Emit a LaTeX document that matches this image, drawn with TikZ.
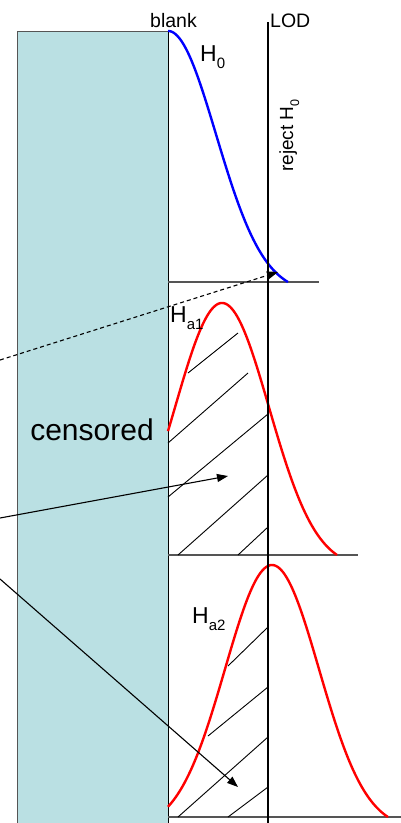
\documentclass[tikz,border=0pt]{standalone}
\usepackage{fontspec}
\setmainfont{Liberation Sans}
\usetikzlibrary{arrows.meta}
\definecolor{censcyan}{RGB}{186,224,227}
\definecolor{baseg}{RGB}{85,85,85}
\begin{document}
\begin{tikzpicture}[x=1pt,y=-1pt,
  curveblue/.style={blue,line width=2.4pt},
  curvered/.style={red,line width=2.4pt},
  baseline/.style={baseg,line width=1.8pt},
  hatch/.style={black,line width=0.9pt},
  pointer/.style={black,line width=1.1pt,-{Triangle[length=11pt,width=8pt]}},
  lbl/.style={inner sep=0pt,font=\fontsize{19.5}{19.5}\selectfont},
  hyp/.style={inner sep=0pt,font=\fontsize{23}{23}\selectfont}]
\useasboundingbox (0,0) rectangle (401,823);
% censored region
\fill[censcyan] (17,31) rectangle (168,830);
\draw[baseg,line width=1pt] (17,830) -- (17,31) -- (168,31);
\draw[black,line width=0.9pt] (168,31) -- (168,830);
\node[inner sep=0pt,font=\fontsize{30}{30}\selectfont] (cens) at (92,430) {censored};
% baselines
\draw[baseline] (168,282) -- (319,282);
\draw[baseline] (168,555) -- (358,555);
\draw[baseline] (168,817) -- (401,817);
% hatching Ha1
\draw[hatch] (188,373) -- (238,333);
\draw[hatch] (168,443) -- (248,373);
\draw[hatch] (168,497) -- (268,414);
\draw[hatch] (178,555) -- (268,475);
\draw[hatch] (238,555) -- (268,527);
% hatching Ha2
\draw[hatch] (228,666) -- (268,627);
\draw[hatch] (208,736) -- (268,687);
\draw[hatch] (178,817) -- (268,737);
\draw[hatch] (228,817) -- (268,787);
% curves
\draw[curveblue] plot[domain=168:288,samples=120,smooth] (\x,{282-251*(exp(-(\x-168)^2/4608)-0.044)/0.956});
\draw[curvered] plot[domain=168:337,samples=120,smooth] (\x,{555-252*(exp(-(\x-222)^2/4418)-0.05)/0.95});
\draw[curvered] plot[domain=168:388,samples=120,smooth] (\x,{817-252*(exp(-(\x-272)^2/4418)-0.0476)/0.9524});
% LOD line
\draw[black,line width=2.6pt] (268,22) -- (268,823);
% labels
\node[lbl,anchor=base east] (blank) at (197,27) {blank};
\node[lbl,anchor=base west] (lod) at (270,27) {LOD};
\node[hyp,anchor=base west] (h0) at (200,61) {H\raisebox{-7pt}{\fontsize{15}{15}\selectfont 0}};
\node[hyp,anchor=base west] (ha1) at (170,322) {H\raisebox{-7pt}{\fontsize{15}{15}\selectfont a1}};
\node[hyp,anchor=base west] (ha2) at (192,623) {H\raisebox{-7pt}{\fontsize{15}{15}\selectfont a2}};
\node[inner sep=0pt,rotate=90,anchor=base west,font=\fontsize{19}{19}\selectfont] (rej) at (293,172) {reject H\raisebox{-6pt}{\fontsize{12.5}{12.5}\selectfont 0}};
% arrows
\coordinate (d0) at (0,360);
\coordinate (d1) at (278,272);
\coordinate (a0) at (0,518);
\coordinate (a1) at (228,476);
\coordinate (b0) at (0,579);
\coordinate (b1) at (238,787);
\draw[pointer,dash pattern=on 4pt off 3pt] (d0) -- (d1);
\draw[pointer] (a0) -- (a1);
\draw[pointer] (b0) -- (b1);
\end{tikzpicture}
\end{document}
